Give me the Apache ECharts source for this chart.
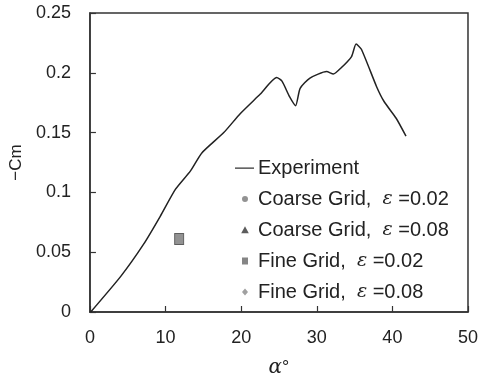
<!DOCTYPE html>
<html><head><meta charset="utf-8">
<script src="https://cdn.jsdelivr.net/npm/echarts@6/dist/echarts.min.js"></script>
<style>html,body{margin:0;padding:0;background:#fff}#c{width:481px;height:383px}</style>
</head><body><div id="c"></div>
<script>
const expAlpha = [0.1, 4.1, 7.1, 9.3, 11.3, 13.3, 14.8, 17.7, 19.9, 22.5, 24.7, 25.4, 26.4, 27.2, 27.8, 29.1, 31.3, 32.2, 33.2, 34.6, 35.2, 35.9, 37.9, 38.9, 40.5, 41.8];
const expCm = [0, 0.030, 0.0567, 0.080, 0.1025, 0.118, 0.133, 0.150, 0.166, 0.182, 0.196, 0.193, 0.180, 0.1725, 0.187, 0.1956, 0.201, 0.199, 0.204, 0.2136, 0.224, 0.2197, 0.1886, 0.176, 0.162, 0.147];
const fineAlpha = [11.8];
const fineCm = [0.061];
const seriesNames = ['Experiment', 'Coarse Grid,  {e|ε} =0.02', 'Coarse Grid,  {e|ε} =0.08', 'Fine Grid,  {e|ε} =0.02', 'Fine Grid,  {e|ε} =0.08'];

// legend icons: small marks placed inside a 22x12 box (corner anchors define the box)
const box = 'M0,0L0.05,0L0.05,0.05Z M22,12L21.95,12L21.95,11.95Z ';
const icCircle = 'path://' + box + 'M14,6A3,3,0,1,1,8,6A3,3,0,1,1,14,6Z';
const icTri = 'path://' + box + 'M11,2.2L14.8,9.2L7.2,9.2Z';
const icRect = 'path://' + box + 'M8,2.5L14,2.5L14,9.5L8,9.5Z';
const icDiam = 'path://' + box + 'M11,2.5L14,6L11,9.5L8,6Z';
const icLine = 'path://' + box + 'M1,5.4L20,5.4L20,6.8L1,6.8Z';

const chart = echarts.init(document.getElementById('c'));
const font = 'Liberation Sans, Arial, sans-serif';
chart.setOption({
  animation: false,
  backgroundColor: '#fff',
  grid: { left: 89, right: 12, top: 13, bottom: 70, show: true, borderColor: '#333', borderWidth: 1.5 },
  xAxis: {
    type: 'value', min: 0, max: 50, interval: 10,
    name: '{a|α}°', nameLocation: 'middle', nameGap: 46,
    nameTextStyle: { fontFamily: font, fontSize: 18, color: '#222', rich: { a: { fontStyle: 'italic', fontFamily: 'DejaVu Serif', fontSize: 20, color: '#222' } } },
    axisLine: { lineStyle: { color: '#333', width: 1.5 } },
    axisTick: { inside: true, length: 6, lineStyle: { color: '#333', width: 1.2 } },
    axisLabel: { fontFamily: font, fontSize: 18, color: '#222', margin: 17 },
    splitLine: { show: false }
  },
  yAxis: {
    type: 'value', min: 0, max: 0.25, interval: 0.05,
    name: '\u2212Cm', nameLocation: 'middle', nameGap: 64, nameRotate: 90,
    nameTextStyle: { fontFamily: font, fontSize: 17, color: '#222' },
    axisLine: { lineStyle: { color: '#333', width: 1.5 } },
    axisTick: { inside: true, length: 6, lineStyle: { color: '#333', width: 1.2 } },
    axisLabel: { fontFamily: font, fontSize: 18, color: '#222', margin: 19 },
    splitLine: { show: false }
  },
  legend: {
    orient: 'vertical', left: 229, top: 153, itemGap: 11, itemWidth: 22, itemHeight: 12,
    textStyle: { fontFamily: font, fontSize: 20, color: '#222', padding: [0,0,0,-3], rich: { e: { fontFamily: 'DejaVu Serif', fontStyle: 'italic', fontSize: 19, color: '#222' } } },
    data: [
      { name: seriesNames[0], icon: icLine, itemStyle: { color: '#333', borderWidth: 0 } },
      { name: seriesNames[1], icon: icCircle, itemStyle: { borderWidth: 0 } },
      { name: seriesNames[2], icon: icTri, itemStyle: { color: '#333', borderWidth: 0 } },
      { name: seriesNames[3], icon: icRect, itemStyle: { color: '#666', borderWidth: 0 } },
      { name: seriesNames[4], icon: icDiam, itemStyle: { borderWidth: 0 } }
    ]
  },
  series: [
    { name: seriesNames[0], type: 'line', data: expAlpha.map((a, i) => [a, expCm[i]]), showSymbol: false, smooth: 0.2, lineStyle: { color: '#222', width: 1.5 }, itemStyle: { color: '#333' } },
    { name: seriesNames[1], type: 'scatter', data: [], symbol: 'circle', symbolSize: 7, itemStyle: { color: '#777' } },
    { name: seriesNames[2], type: 'scatter', data: [], symbol: 'triangle', symbolSize: 8, itemStyle: { color: '#333' } },
    { name: seriesNames[3], type: 'scatter', data: fineAlpha.map((a, i) => [a, fineCm[i]]), symbol: 'rect', symbolSize: [9, 11], itemStyle: { color: '#777', borderColor: '#444', borderWidth: 1 } },
    { name: seriesNames[4], type: 'scatter', data: [], symbol: 'diamond', symbolSize: 8, itemStyle: { color: '#888' } }
  ]
});
</script></body></html>
